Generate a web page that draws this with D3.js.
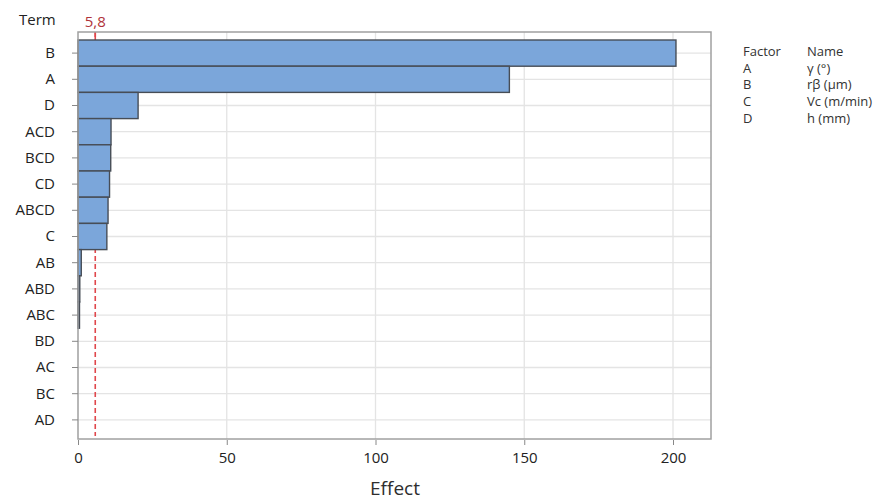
<!DOCTYPE html>
<html>
<head>
<meta charset="utf-8">
<script src="https://cdn.jsdelivr.net/npm/d3@7"></script>
<style>
  body { margin: 0; background: #fff; }
  text { font-family: "Open Sans", "Noto Sans", sans-serif; fill: #333; }
</style>
</head>
<body>
<svg id="chart" width="892" height="500"></svg>
<script>
// Data
const terms = ["B", "A", "D", "ACD", "BCD", "CD", "ABCD", "C", "AB", "ABD", "ABC", "BD", "AC", "BC", "AD"];
const effects = [201, 145, 20.2, 11.1, 11, 10.6, 10.1, 9.7, 1.1, 0.6, 0.5, 0, 0, 0, 0];
const xTicks = [0, 50, 100, 150, 200];
const refValue = 5.8;
const refLabel = "5,8";
const factors = ["A", "B", "C", "D"];
const factorNames = ["γ (°)", "rβ (µm)", "Vc (m/min)", "h (mm)"];

const data = terms.map((t, i) => ({ term: t, effect: effects[i] }));

// plot area
const plotLeft = 78, plotRight = 711, plotTop = 32, plotBottom = 439;

const svg = d3.select("#chart");

const xScale = d3.scaleLinear().domain([0, 200]).range([plotLeft, 673]);
const yScale = d3.scaleBand().domain(terms).range([40, 433]).padding(0);

// gridlines
svg.append("g")
  .selectAll("line")
  .data(xTicks.filter((d) => d > 0))
  .enter()
  .append("line")
  .attr("x1", (d) => xScale(d))
  .attr("x2", (d) => xScale(d))
  .attr("y1", plotTop)
  .attr("y2", plotBottom)
  .attr("stroke", "#e4e4e4")
  .attr("stroke-width", 1.3);

svg.append("g")
  .selectAll("line")
  .data(terms)
  .enter()
  .append("line")
  .attr("x1", plotLeft)
  .attr("x2", plotRight)
  .attr("y1", (d) => yScale(d) + yScale.bandwidth() / 2)
  .attr("y2", (d) => yScale(d) + yScale.bandwidth() / 2)
  .attr("stroke", "#e4e4e4")
  .attr("stroke-width", 1.3);

// reference line (sits behind the bars)
svg.append("line")
  .attr("x1", xScale(refValue))
  .attr("x2", xScale(refValue))
  .attr("y1", plotTop)
  .attr("y2", 436)
  .attr("stroke", "#e0474c")
  .attr("stroke-width", 1.6)
  .attr("stroke-dasharray", "5,3");

svg.append("line")
  .attr("x1", xScale(refValue))
  .attr("x2", xScale(refValue))
  .attr("y1", plotTop)
  .attr("y2", 40)
  .attr("stroke", "#e0474c")
  .attr("stroke-width", 1.6);

// bars
svg.append("g")
  .selectAll("rect")
  .data(data.filter((d) => d.effect > 0))
  .enter()
  .append("rect")
  .attr("x", xScale(0))
  .attr("y", (d) => yScale(d.term))
  .attr("width", (d) => xScale(d.effect) - xScale(0))
  .attr("height", yScale.bandwidth())
  .attr("fill", "#7ba6da")
  .attr("stroke", "#474d56")
  .attr("stroke-width", 1.4);

svg.append("text")
  .attr("x", xScale(refValue))
  .attr("y", 27)
  .attr("text-anchor", "middle")
  .style("font-size", "15px")
  .style("fill", "#b0333a")
  .text(refLabel);

// plot border
svg.append("rect")
  .attr("x", plotLeft)
  .attr("y", plotTop)
  .attr("width", plotRight - plotLeft)
  .attr("height", plotBottom - plotTop)
  .attr("fill", "none")
  .attr("stroke", "#a0a0a0")
  .attr("stroke-width", 1.5);

// axes
const yAxis = svg.append("g")
  .attr("transform", "translate(" + plotLeft + ",0)")
  .call(d3.axisLeft(yScale).tickSize(6).tickPadding(17));
yAxis.select(".domain").remove();
yAxis.selectAll("line").attr("stroke", "#888");
yAxis.selectAll("text").style("font-size", "15px").style("fill", "#222");

const xAxis = svg.append("g")
  .attr("transform", "translate(0," + (plotBottom + 1) + ")")
  .call(d3.axisBottom(xScale).tickValues(xTicks).tickSize(5).tickPadding(7));
xAxis.select(".domain").remove();
xAxis.selectAll("line").attr("stroke", "#888");
xAxis.selectAll("text").style("font-size", "15px").style("fill", "#222");

svg.append("text")
  .attr("x", 19)
  .attr("y", 25)
  .style("font-size", "15px")
  .style("fill", "#222")
  .text("Term");

svg.append("text")
  .attr("x", 395)
  .attr("y", 495)
  .attr("text-anchor", "middle")
  .style("font-size", "19px")
  .style("fill", "#2e2e2e")
  .text("Effect");

// factor legend
const legend = svg.append("g").attr("transform", "translate(743,56)");
legend.append("text").attr("x", 0).attr("y", 0).style("font-size", "13px").text("Factor");
legend.append("text").attr("x", 64).attr("y", 0).style("font-size", "13px").text("Name");
legend.selectAll(".f")
  .data(factors)
  .enter()
  .append("text")
  .attr("class", "f")
  .attr("x", 0)
  .attr("y", (d, i) => 16.7 * (i + 1))
  .style("font-size", "13px")
  .text((d) => d);
legend.selectAll(".n")
  .data(factorNames)
  .enter()
  .append("text")
  .attr("class", "n")
  .attr("x", 64)
  .attr("y", (d, i) => 16.7 * (i + 1))
  .style("font-size", "13px")
  .text((d) => d);
</script>
</body>
</html>
